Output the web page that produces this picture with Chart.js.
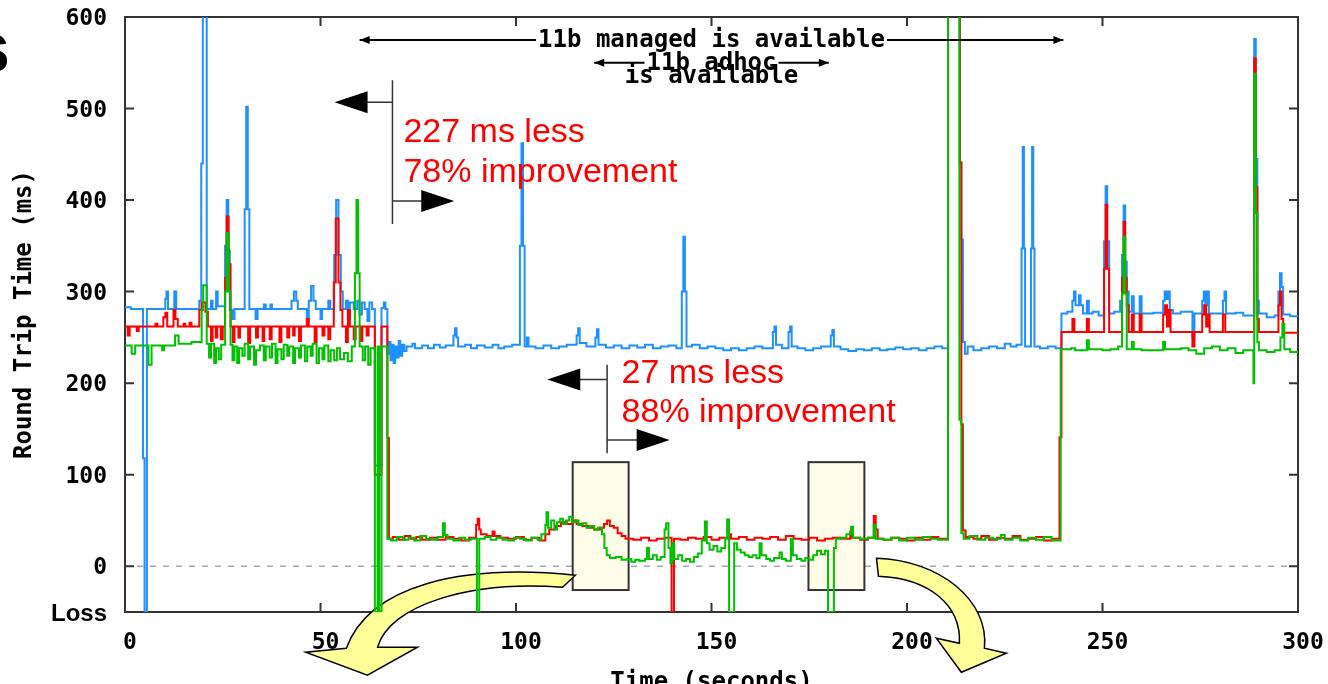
<!DOCTYPE html>
<html>
<head>
<meta charset="utf-8">
<script src="https://cdn.jsdelivr.net/npm/chart.js@4.4.0/dist/chart.umd.min.js"></script>
<style>
  html, body { margin: 0; padding: 0; background: #fff; }
  #wrap { width: 1328px; height: 684px; }
</style>
</head>
<body>
<div id="wrap"><canvas id="chart" width="1328" height="684"></canvas></div>
<script>
// axis ticks
const xTicks = [0, 50, 100, 150, 200, 250, 300];
const yTicks = [-50, 0, 100, 200, 300, 400, 500, 600];
const lossValue = -50;

// [time (s), round trip (ms)] steps; -50 = loss, >600 = off the top
const blueSteps = [
  [0,283],[1.5,281],[4.6,118],[5.0,-50],[5.6,281],[10.3,292],[10.6,300],[11.0,281],[12.6,300],[13.1,281],
  [19.0,290],[19.5,440],[19.9,640],[20.9,281],[22.0,290],[22.4,281],[23.3,300],[23.7,284],[25.6,350],[26.0,400],
  [26.4,345],[26.8,280],[27.5,270],[28.0,281],[30.6,390],[31.0,502],[31.4,390],[31.8,281],[33.4,270],[33.9,281],
  [35.5,286],[36.0,281],[37.2,286],[37.6,281],[42.6,290],[43.2,300],[43.8,290],[44.2,281],[46.5,268],[47.0,290],
  [47.6,306],[48.2,290],[48.8,281],[50.0,270],[50.4,281],[52.0,290],[52.5,281],[53.5,340],[54.0,400],[54.6,340],
  [55.2,300],[55.7,281],[56.5,290],[57.0,270],[57.5,288],[58.5,281],[59.4,290],[60.0,275],[60.6,288],[61.3,281],
  [62.0,268],[62.5,288],[63.2,281],[63.9,110],[65.6,282],[66.2,288],[66.6,281],[67.1,232],[67.5,245],[67.9,225],
  [68.3,242],[68.7,222],[69.1,240],[69.5,228],[70.0,246],[70.4,230],[70.9,242],[71.4,235],[72.0,240],[73.5,243],
  [74.2,238],[76.0,241],[77.5,238],[79.0,242],[80.5,239],[82.0,241],[84.0,252],[84.4,260],[84.8,250],[85.2,240],
  [87.0,242],[88.5,238],[90.0,241],[92.0,239],[94.0,242],[95.5,238],[97.0,240],[99.0,242],[101.0,350],[101.4,462],
  [101.8,350],[102.2,240],[102.8,250],[103.2,240],[105.0,238],[107.0,241],[109.0,238],[111.0,240],[113.0,242],[115.5,252],
  [115.9,260],[116.3,244],[118.0,240],[120.3,250],[120.7,259],[121.1,242],[123.0,239],[125.0,241],[127.0,238],[129.0,241],
  [131.0,239],[133.0,242],[135.0,238],[137.0,240],[139.0,241],[141.0,238],[142.4,300],[142.8,360],[143.2,300],[143.6,240],
  [145.0,242],[147.0,238],[149.0,240],[151.0,238],[153.0,236],[155.0,238],[157.0,236],[159.0,238],[161.0,240],[163.0,238],
  [165.7,256],[166.1,262],[166.5,242],[168.0,238],[169.7,256],[170.1,262],[170.5,240],[172.0,238],[174.0,236],[176.0,238],
  [178.0,240],[180.5,252],[180.9,258],[181.3,240],[183.0,237],[185.0,235],[187.0,237],[189.0,236],[191.0,238],[193.0,236],
  [195.0,237],[197.0,239],[199.0,237],[201.0,238],[203.0,236],[205.0,238],[207.0,240],[209.0,238],[210.5,640],[213.5,441],
  [213.9,357],[214.3,245],[214.8,232],[215.5,240],[217.0,236],[219.0,238],[221.0,240],[223.0,238],[225.0,243],[226.5,240],
  [228.0,242],[229.3,347],[229.6,458],[229.9,347],[230.2,240],[231.7,347],[232.0,458],[232.3,347],[232.6,240],[234.0,238],
  [236.0,240],[238.0,238],[239.5,276],[241.0,278],[242.3,290],[242.7,300],[243.1,285],[244.0,296],[244.4,285],[245.0,276],
  [246.0,290],[246.5,276],[247.5,278],[249.0,274],[250.4,355],[250.8,415],[251.2,355],[251.7,276],[253.0,278],[254.5,290],
  [255.0,340],[255.4,394],[255.8,333],[256.2,300],[256.7,278],[257.5,295],[258.0,276],[259.5,295],[260.0,276],[263.0,277],
  [265.5,290],[265.9,300],[266.3,292],[266.8,300],[267.2,280],[268.0,276],[270.0,278],[273.0,250],[273.5,276],[275.5,290],
  [275.9,300],[276.3,285],[276.8,300],[277.2,276],[280.8,290],[281.2,300],[281.6,276],[284.0,277],[286.0,274],[288.8,576],
  [289.2,445],[289.6,290],[290.0,276],[292.0,272],[294.0,274],[295.0,300],[295.4,320],[295.8,305],[296.2,275],[298.0,273],
  [300.0,273]
];

const redSteps = [
  [0,262],[0.7,252],[1.2,262],[3.0,257],[3.5,262],[7.8,265],[8.3,262],[9.8,272],[10.3,277],[10.8,262],
  [12.4,280],[12.9,270],[13.5,262],[15.0,265],[15.4,262],[16.5,266],[17.0,262],[19.0,280],[19.6,288],[20.6,278],
  [21.2,262],[22.0,246],[22.4,262],[23.2,250],[23.6,262],[24.5,248],[25.0,262],[25.6,315],[26.0,382],[26.5,330],
  [27.0,262],[27.6,245],[28.0,262],[29.0,250],[29.4,262],[31.5,244],[32.0,262],[33.5,250],[34.0,262],[35.2,246],
  [35.6,262],[37.0,248],[37.5,262],[39.5,245],[40.0,262],[41.5,250],[42.0,262],[43.0,252],[43.4,262],[44.5,246],
  [45.0,262],[46.5,270],[47.0,262],[48.5,245],[49.0,262],[50.5,252],[51.0,262],[52.0,248],[52.5,262],[53.4,310],
  [53.9,380],[54.6,310],[55.1,280],[55.6,262],[56.5,245],[57.0,280],[57.5,262],[58.5,248],[59.0,262],[60.2,246],
  [60.7,262],[61.8,252],[62.3,262],[63.9,100],[65.6,262],[67.1,140],[67.5,30],[68.5,32],[70.0,29],[71.5,33],
  [73.0,30],[74.5,32],[76.0,29],[78.0,31],[80.0,29],[82.0,32],[84.0,30],[86.0,28],[88.0,31],[89.8,45],
  [90.2,52],[90.6,40],[91.0,35],[92.5,33],[94.0,38],[94.5,33],[96.0,31],[98.0,30],[100.0,32],[102.0,29],
  [104.0,31],[106.0,28],[107.5,35],[108.5,40],[110.0,44],[111.5,48],[113.0,46],[114.5,50],[115.5,46],[117.0,44],
  [118.5,42],[120.0,40],[121.5,42],[122.5,46],[123.3,50],[124.0,44],[125.0,42],[126.0,36],[127.0,33],[128.0,30],
  [130.0,29],[132.0,31],[134.0,28],[136.0,30],[138.0,31],[139.8,-50],[140.4,30],[142.0,29],[144.0,31],[146.0,30],
  [148.0,32],[150.0,29],[152.0,31],[154.5,35],[155.0,30],[157.0,32],[159.0,29],[161.0,31],[163.0,30],[165.0,32],
  [167.0,29],[169.0,33],[171.0,30],[173.0,29],[175.0,31],[177.0,28],[179.0,30],[181.0,31],[183.0,30],[185.5,38],
  [186.0,31],[188.0,29],[190.0,31],[191.5,55],[192.0,40],[192.5,30],[194.0,29],[196.0,31],[198.0,30],[200.0,28],
  [202.0,31],[204.0,29],[206.0,32],[208.0,30],[210.5,640],[213.5,441],[213.9,155],[214.3,39],[215.0,32],[217.0,30],
  [219.0,33],[221.0,29],[223.0,31],[225.0,30],[227.0,33],[229.0,29],[231.0,30],[233.0,32],[235.0,28],[237.0,30],
  [239.0,141],[239.5,256],[242.3,270],[242.8,256],[246.0,270],[246.5,256],[250.4,325],[250.8,395],[251.2,325],[251.7,256],
  [255.0,315],[255.4,376],[255.8,315],[256.2,285],[256.7,256],[257.5,275],[258.0,256],[259.5,275],[260.0,256],[265.5,275],
  [266.0,285],[266.5,262],[267.0,280],[267.4,256],[273.0,240],[273.5,256],[275.5,275],[276.0,285],[276.5,262],[277.0,275],
  [277.4,256],[280.8,275],[281.4,256],[288.8,555],[289.2,414],[289.6,270],[290.0,256],[295.0,285],[295.4,300],[295.8,270],
  [296.2,255],[300.0,255]
];

const greenSteps = [
  [0,241],[1.7,232],[2.6,241],[6.0,220],[6.8,241],[9.5,236],[10.0,241],[12.8,252],[13.7,243],[17.0,245],
  [19.6,280],[20.0,307],[20.9,243],[21.5,228],[22.0,243],[22.8,222],[23.3,238],[24.0,226],[24.6,242],[25.6,300],
  [26.0,364],[26.5,300],[27.0,242],[27.5,225],[28.0,240],[28.7,222],[29.2,238],[30.0,230],[30.6,243],[31.5,226],
  [32.0,240],[33.0,220],[33.5,236],[34.5,241],[35.5,225],[36.0,240],[37.0,228],[37.6,243],[38.5,222],[39.0,237],
  [40.0,226],[40.6,242],[41.5,230],[42.0,240],[43.0,222],[43.5,238],[44.5,228],[45.0,241],[46.0,224],[46.6,240],
  [47.5,230],[48.0,243],[49.0,222],[49.6,238],[50.5,226],[51.0,241],[52.0,224],[52.6,236],[53.5,225],[54.2,238],
  [55.0,226],[56.0,233],[57.0,224],[58.0,240],[58.8,320],[59.2,400],[59.6,320],[60.0,240],[60.8,225],[61.4,240],
  [62.2,220],[62.8,238],[63.9,-50],[64.6,240],[65.0,-50],[65.6,240],[67.1,30],[68.0,28],[69.5,32],[71.0,29],
  [72.5,31],[74.0,28],[75.5,33],[77.0,30],[78.5,29],[80.0,32],[81.3,47],[81.8,34],[82.5,30],[84.0,28],
  [85.5,31],[87.0,29],[88.5,30],[90.0,-50],[90.6,30],[92.0,32],[93.5,29],[95.0,31],[96.5,29],[98.0,28],
  [99.5,31],[101.0,30],[102.5,28],[104.0,31],[105.5,29],[106.5,35],[107.5,45],[107.8,59],[108.2,42],[109.0,50],
  [109.8,40],[110.5,48],[111.3,52],[112.0,46],[112.8,50],[113.6,54],[114.3,48],[115.2,50],[116.0,45],[117.0,47],
  [118.0,42],[119.0,44],[120.0,40],[121.0,42],[122.0,35],[122.6,20],[123.2,12],[124.0,9],[125.5,10],[127.0,7],
  [128.5,8],[129.5,5],[130.5,7],[131.5,6],[133.0,8],[133.5,20],[134.0,8],[135.0,12],[136.0,7],[137.0,10],
  [138.0,40],[138.4,47],[139.0,20],[139.5,3],[140.0,25],[140.5,8],[141.5,12],[142.5,6],[143.5,8],[144.5,5],
  [145.5,10],[146.5,14],[147.5,28],[148.3,49],[148.8,25],[149.5,18],[150.5,22],[151.5,16],[152.5,20],[153.5,30],
  [154.0,51],[154.5,-50],[155.8,25],[156.5,18],[157.5,15],[158.5,12],[159.5,10],[160.5,12],[161.5,9],[162.3,25],
  [162.8,12],[164.0,8],[165.0,6],[166.0,9],[167.4,15],[168.0,8],[169.0,6],[170.3,30],[170.8,12],[171.8,8],
  [173.0,6],[174.0,9],[175.0,7],[176.0,12],[177.0,17],[178.0,13],[179.0,17],[179.8,-50],[181.3,20],[181.8,30],
  [183.0,31],[184.5,35],[185.7,43],[186.2,31],[188.0,30],[190.0,31],[191.5,45],[192.0,30],[194.0,29],[196.0,31],
  [198.0,28],[200.0,31],[202.0,29],[204.0,32],[206.0,30],[208.0,29],[210.5,640],[213.4,160],[213.9,36],[214.5,30],
  [216.0,33],[218.0,29],[220.0,31],[222.0,30],[224.0,34],[225.0,29],[227.0,31],[229.0,28],[231.0,31],[233.0,29],
  [235.0,32],[237.0,28],[239.3,237],[242.0,238],[243.0,236],[246.0,247],[246.5,237],[250.0,236],[252.0,237],[254.0,240],
  [255.0,298],[255.4,360],[255.8,298],[256.2,237],[257.5,245],[258.0,237],[260.0,236],[265.5,245],[266.0,237],[270.0,238],
  [272.0,236],[274.0,232],[276.0,238],[278.0,240],[280.0,236],[282.0,238],[284.0,233],[286.0,236],[288.6,200],[288.8,538],
  [289.2,386],[289.6,245],[290.0,236],[292.0,234],[294.0,236],[295.5,250],[296.0,265],[296.5,237],[298.0,234],[300.0,233]
];

const toPoints = steps => steps.map(([t, v]) => ({x: t, y: v}));

const MONO = '"DejaVu Sans Mono", monospace';
const SANS = '"Liberation Sans", Arial, sans-serif';

function tri(ctx, tipX, tipY, dir, len, half) {
  ctx.beginPath();
  ctx.moveTo(tipX, tipY);
  ctx.lineTo(tipX - dir * len, tipY - half);
  ctx.lineTo(tipX - dir * len, tipY + half);
  ctx.closePath();
  ctx.fill();
}

const overlay = {
  id: 'overlay',
  beforeDatasetsDraw(chart) {
    const {ctx, chartArea: a, scales: {x, y}} = chart;
    const X = t => x.getPixelForValue(t);
    const Y = v => y.getPixelForValue(v);
    ctx.save();

    // frame with inward ticks
    ctx.strokeStyle = '#333';
    ctx.lineWidth = 2;
    ctx.strokeRect(a.left, a.top, a.right - a.left, a.bottom - a.top);
    ctx.beginPath();
    yTicks.filter(v => v >= 0 && v < 600).forEach(v => {
      ctx.moveTo(a.left, Y(v)); ctx.lineTo(a.left + 9, Y(v));
      ctx.moveTo(a.right, Y(v)); ctx.lineTo(a.right - 9, Y(v));
    });
    xTicks.slice(1, -1).forEach(t => {
      ctx.moveTo(X(t), a.bottom); ctx.lineTo(X(t), a.bottom - 9);
      ctx.moveTo(X(t), a.top); ctx.lineTo(X(t), a.top + 9);
    });
    ctx.stroke();

    // zero line
    ctx.strokeStyle = '#a8a8a8';
    ctx.lineWidth = 1.5;
    ctx.setLineDash([6, 7]);
    ctx.beginPath();
    ctx.moveTo(a.left + 12, Y(0));
    ctx.lineTo(a.right - 10, Y(0));
    ctx.stroke();
    ctx.setLineDash([]);

    // highlight boxes
    [[114.5, 128.8], [174.8, 189.1]].forEach(([t0, t1]) => {
      ctx.fillStyle = '#fffde9';
      ctx.strokeStyle = '#333';
      ctx.lineWidth = 2;
      ctx.fillRect(X(t0), Y(113.7), X(t1) - X(t0), Y(-26) - Y(113.7));
      ctx.strokeRect(X(t0), Y(113.7), X(t1) - X(t0), Y(-26) - Y(113.7));
    });

    // curved yellow arrows
    ctx.fillStyle = '#ffff99';
    ctx.strokeStyle = '#000';
    ctx.lineWidth = 1.5;
    ctx.beginPath();
    ctx.moveTo(X(115.2), Y(-9.8));
    ctx.bezierCurveTo(X(86), Y(3), X(62.5), Y(-20.8), X(56.6), Y(-89.6));
    ctx.lineTo(X(46.2), Y(-94));
    ctx.lineTo(X(62.0), Y(-119));
    ctx.lineTo(X(74.8), Y(-88.5));
    ctx.lineTo(X(64.6), Y(-88.5));
    ctx.bezierCurveTo(X(67.6), Y(-42.6), X(88.1), Y(-15.3), X(111.9), Y(-23));
    ctx.closePath();
    ctx.fill();
    ctx.stroke();

    ctx.beginPath();
    ctx.moveTo(X(192.2), Y(8.7));
    ctx.bezierCurveTo(X(208.3), Y(6.6), X(221.1), Y(-37.2), X(219.8), Y(-89.6));
    ctx.lineTo(X(225.4), Y(-95));
    ctx.lineTo(X(213.9), Y(-115.8));
    ctx.lineTo(X(207.5), Y(-78.7));
    ctx.lineTo(X(213.4), Y(-84.2));
    ctx.bezierCurveTo(X(213.9), Y(-42.6), X(205.7), Y(-13.1), X(192.7), Y(-10.9));
    ctx.closePath();
    ctx.fill();
    ctx.stroke();
    ctx.restore();
  },
  afterDatasetsDraw(chart) {
    const {ctx, scales: {x, y}} = chart;
    const X = t => x.getPixelForValue(t);
    const Y = v => y.getPixelForValue(v);
    ctx.save();

    // availability ranges
    ctx.font = 'bold 24px ' + MONO;
    ctx.textAlign = 'center';
    ctx.textBaseline = 'middle';
    ctx.fillStyle = '#000';
    ctx.strokeStyle = '#000';
    ctx.lineWidth = 2;
    const range = (t0, t1, v, label, vText) => {
      const cx = X((t0 + t1) / 2);
      const w = ctx.measureText(label).width;
      ctx.beginPath();
      ctx.moveTo(X(t0), Y(v)); ctx.lineTo(cx - w / 2 - 2, Y(v));
      ctx.moveTo(cx + w / 2 + 2, Y(v)); ctx.lineTo(X(t1), Y(v));
      ctx.stroke();
      tri(ctx, X(t0), Y(v), -1, 10, 4);
      tri(ctx, X(t1), Y(v), 1, 10, 4);
      ctx.fillText(label, cx, Y(vText));
    };
    range(60, 240, 575, '11b managed is available', 573.5);
    range(120, 180, 550, '11b adhoc', 548.6);
    ctx.fillText('is available', X(150), Y(534.4));

    // improvement markers
    const marker = (t, vTop, vBot, vLeft, tLeft, vRight, tRight) => {
      ctx.strokeStyle = '#333';
      ctx.lineWidth = 1.5;
      ctx.beginPath();
      ctx.moveTo(X(t), Y(vTop)); ctx.lineTo(X(t), Y(vBot));
      ctx.moveTo(X(t), Y(vLeft)); ctx.lineTo(X(tLeft) + 30, Y(vLeft));
      ctx.moveTo(X(t), Y(vRight)); ctx.lineTo(X(tRight) - 30, Y(vRight));
      ctx.stroke();
      ctx.fillStyle = '#000';
      tri(ctx, X(tLeft), Y(vLeft), -1, 33, 11);
      tri(ctx, X(tRight), Y(vRight), 1, 33, 11);
    };
    marker(68.4, 531, 374, 507, 53.6, 399, 84.2);
    marker(123.3, 220, 123.5, 204, 108, 138, 139.3);

    ctx.font = '34px ' + SANS;
    ctx.fillStyle = '#ff0000';
    ctx.textAlign = 'left';
    ctx.textBaseline = 'alphabetic';
    ctx.fillText('227 ms less', X(71.2), Y(463));
    ctx.fillText('78% improvement', X(71.2), Y(420));
    ctx.fillText('27 ms less', X(127), Y(200));
    ctx.fillText('88% improvement', X(127), Y(157.4));

    // cut-off title letter at the left edge
    ctx.font = 'bold 72px ' + SANS;
    ctx.fillStyle = '#000';
    ctx.textAlign = 'right';
    ctx.fillText('s', 10, 72);
    ctx.restore();
  }
};

const tickFont = {family: MONO, size: 23, weight: 'bold'};

new Chart(document.getElementById('chart'), {
  type: 'line',
  data: {
    datasets: [
      {label: 'blue', data: toPoints(blueSteps), borderColor: '#1e90ff', order: 3},
      {label: 'red', data: toPoints(redSteps), borderColor: '#ff0000', order: 2},
      {label: 'green', data: toPoints(greenSteps), borderColor: '#00c000', order: 1}
    ]
  },
  options: {
    responsive: false,
    animation: false,
    layout: {padding: {top: 17, right: 30, left: 0, bottom: 0}},
    datasets: {line: {stepped: true, borderWidth: 2, pointRadius: 0, fill: false, tension: 0}},
    plugins: {legend: {display: false}, tooltip: {enabled: false}},
    scales: {
      x: {
        type: 'linear',
        min: 0,
        max: 300,
        afterBuildTicks: s => { s.ticks = xTicks.map(v => ({value: v})); },
        afterFit: s => { s.height = 72; s.paddingLeft = 0; s.paddingRight = 0; },
        grid: {display: false, drawTicks: false},
        border: {display: false},
        ticks: {font: tickFont, color: '#000', padding: 17, labelOffset: 5, maxRotation: 0, autoSkip: false, z: 1},
        title: {display: true, text: 'Time (seconds)', color: '#000',
          font: {family: MONO, size: 24, weight: 'bold'}, padding: {top: 0, bottom: -13}}
      },
      y: {
        type: 'linear',
        min: -50,
        max: 600,
        afterBuildTicks: s => { s.ticks = yTicks.map(v => ({value: v})); },
        afterFit: s => { s.width = 125; s.paddingTop = 0; s.paddingBottom = 0; },
        grid: {display: false, drawTicks: false},
        border: {display: false},
        ticks: {
          color: '#000',
          padding: 18,
          labelOffset: 2,
          callback: v => v === lossValue ? 'Loss' : String(v),
          font: c => (c.tick && c.tick.value === lossValue)
            ? {family: SANS, size: 24, weight: 'bold'}
            : tickFont
        },
        title: {display: true, text: 'Round Trip Time (ms)', color: '#000',
          font: {family: MONO, size: 24, weight: 'bold'}, padding: {top: 10, bottom: 0}}
      }
    }
  },
  plugins: [overlay]
});
</script>
</body>
</html>
